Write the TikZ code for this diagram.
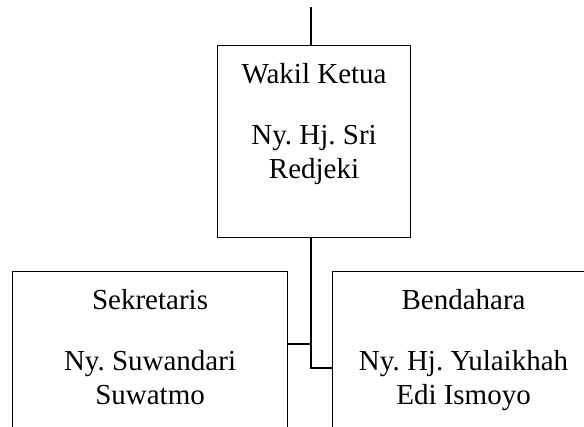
\documentclass[tikz,border=0pt]{standalone}
\usepackage{fontspec}
\setmainfont{Liberation Serif}
\usetikzlibrary{calc}
\begin{document}
\frenchspacing
\begin{tikzpicture}[x=1pt,y=-1pt, line width=1.1pt,
  box/.style={draw, rectangle, inner sep=0pt, anchor=north west},
  lbl/.style={anchor=north, align=center, inner sep=0pt, font=\fontsize{29}{33.5}\selectfont\frenchspacing}]
\useasboundingbox (0,0) rectangle (584,427);
\clip (0,0) rectangle (584,427);
\node[box, minimum width=193pt, minimum height=192pt] (wakil) at (217,45) {};
\node[box, minimum width=275pt, minimum height=200pt] (sek) at (12,271) {};
\node[box, minimum width=262pt, minimum height=200pt] (bend) at (332,271) {};
\node[lbl] (wakilt) at ($(wakil.north)+(0,18)$) {Wakil Ketua\\[27.5pt] Ny. Hj. Sri\\ Redjeki};
\node[lbl] (sekt) at ($(sek.north)+(0,18)$) {Sekretaris\\[27.5pt] Ny. Suwandari\\ Suwatmo};
\node[lbl] (bendt) at ($(bend.north)+(0,18)$) {Bendahara\\[27.5pt] Ny. Hj. Yulaikhah\\ Edi Ismoyo};
\coordinate (topend) at (311,7);
\coordinate (j1) at (311,344);
\coordinate (j2) at (311,368);
\draw (topend) -- (topend |- wakil.north);
\draw (topend |- wakil.south) -- (j2) -- (j2 -| bend.west);
\draw (sek.east |- j1) -- (j1);
\end{tikzpicture}
\end{document}
